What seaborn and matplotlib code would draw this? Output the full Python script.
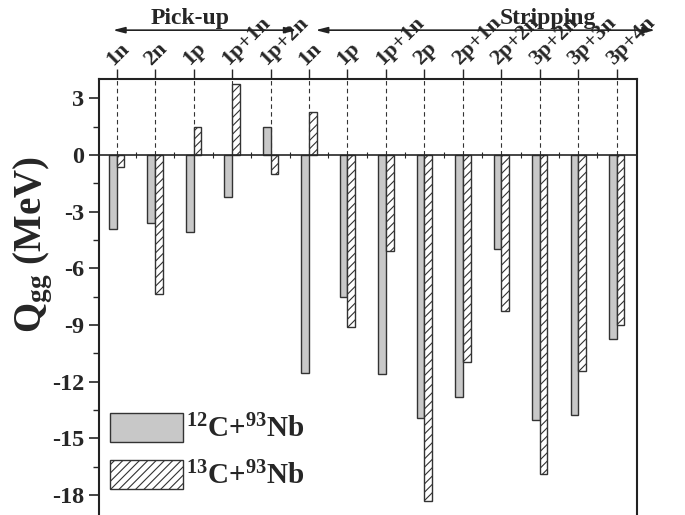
import matplotlib
matplotlib.use("Agg")
import matplotlib.pyplot as plt
import seaborn as sns
import pandas as pd
import numpy as np

# ---- data ----
groups = ["Pick-up"] * 5 + ["Stripping"] * 9
channels = ["1n", "2n", "1p", "1p+1n", "1p+2n",
            "1n", "1p", "1p+1n", "2p", "2p+1n", "2p+2n", "3p+2n", "3p+3n", "3p+4n"]
q_12c = [-3.9, -3.6, -4.1, -2.2, 1.5,
         -11.55, -7.5, -11.6, -13.9, -12.8, -4.95, -14.0, -13.75, -9.75]
q_13c = [-0.65, -7.35, 1.5, 3.75, -1.0,
         2.3, -9.1, -5.1, -18.3, -10.95, -8.25, -16.9, -11.45, -9.0]
systems = [r"$^{\mathbf{12}}$C+$^{\mathbf{93}}$Nb", r"$^{\mathbf{13}}$C+$^{\mathbf{93}}$Nb"]

keys = [f"{g} {c} {i}" for i, (g, c) in enumerate(zip(groups, channels))]
df = pd.DataFrame({
    "key": keys * 2,
    "Q": q_12c + q_13c,
    "system": [systems[0]] * len(keys) + [systems[1]] * len(keys),
})

sns.set_style("ticks")
plt.rcParams["font.family"] = ["Liberation Serif", "DejaVu Serif"]
plt.rcParams["font.weight"] = "bold"
plt.rcParams["axes.unicode_minus"] = False
plt.rcParams["mathtext.fontset"] = "custom"
plt.rcParams["mathtext.rm"] = "Liberation Serif:bold"
plt.rcParams["mathtext.bf"] = "Liberation Serif:bold"
plt.rcParams["mathtext.it"] = "Liberation Serif:bold"
plt.rcParams["hatch.linewidth"] = 0.8

fig = plt.figure(figsize=(6.85, 5.15), dpi=100)
ax = fig.add_axes([99 / 685, 0.0, (636.7 - 99) / 685, 436 / 515])

sns.barplot(data=df, x="key", y="Q", hue="system", order=keys, hue_order=systems,
            width=0.4, dodge=True, gap=0, ax=ax, legend=False,
            palette=["#c8c8c8", "white"], edgecolor="#333333", linewidth=1.0,
            saturation=1)
for bar in ax.containers[1]:
    bar.set_hatch("////")
    bar.set_facecolor("white")
    bar.set_edgecolor("#333333")

pos = np.arange(len(keys))
ax.vlines(pos, 0, 4.0, linestyles=(0, (4, 3)), colors="#333333", lw=0.8, zorder=0.5)

ax.set_xlim(-0.46, 13.52)
ax.set_ylim(-19.05, 4.02)

# x axis: labels on top, zero line with minor ticks
ax.set_xticks(pos)
ax.set_xticklabels(channels)
ax.set_xticks(pos[:-1] + 0.5, minor=True)
ax.spines["bottom"].set_position(("data", 0))
ax.spines["bottom"].set_linewidth(1.2)
ax.tick_params(axis="x", which="major", bottom=False, top=True, labelbottom=False,
               labeltop=True, direction="out", length=7, width=1.0, pad=0,
               labelsize=16)
ax.tick_params(axis="x", which="minor", bottom=True, top=False, direction="inout",
               length=5, width=0.8)
for lab in ax.get_xticklabels():
    lab.set_rotation(45)
    lab.set_ha("left")
    lab.set_va("bottom")
    lab.set_rotation_mode("anchor")
    lab.set_fontweight("bold")

ax.set_yticks(np.arange(-18, 4, 3))
ax.set_yticks(np.arange(-18, 4, 1.5), minor=True)
ax.tick_params(axis="y", which="major", direction="out", length=7, width=1.2,
               labelsize=17.5, right=False)
ax.tick_params(axis="y", which="minor", direction="out", length=4, width=1.0,
               right=False)
for lab in ax.get_yticklabels():
    lab.set_fontweight("bold")

for s in ["top", "left", "right"]:
    ax.spines[s].set_linewidth(1.5)
    ax.spines[s].set_color("#222222")

ax.set_xlabel("")
ax.set_ylabel(r"Q$_{\mathbf{gg}}$ (MeV)", fontsize=28, fontweight="bold")
ax.yaxis.set_label_coords(-0.081, 0.62)

# group arrows and titles
tr = ax.get_xaxis_transform()
ax.annotate("", xy=(4.68, 1.112), xytext=(-0.1, 1.112), xycoords=tr,
            arrowprops=dict(arrowstyle="<|-|>,head_length=0.7,head_width=0.18",
                            color="#222222", lw=1.2, shrinkA=0, shrinkB=0),
            annotation_clip=False)
ax.annotate("", xy=(14.0, 1.112), xytext=(5.17, 1.112), xycoords=tr,
            arrowprops=dict(arrowstyle="<|-|>,head_length=0.7,head_width=0.18",
                            color="#222222", lw=1.2, shrinkA=0, shrinkB=0),
            annotation_clip=False)
ax.text(1.9, 1.114, "Pick-up", transform=tr, ha="center", va="bottom",
        fontsize=17, fontweight="bold")
ax.text(11.2, 1.114, "Stripping", transform=tr, ha="center", va="bottom",
        fontsize=17, fontweight="bold")

# legend
handles = [ax.containers[0][0], ax.containers[1][0]]
leg = ax.legend(handles, systems, loc="lower left", bbox_to_anchor=(-0.012, 0.017),
                frameon=False, fontsize=21, handlelength=2.5, handleheight=1.15,
                handletextpad=0.1, labelspacing=0.55, borderaxespad=0.2)

fig.savefig("out.png", dpi=100)
